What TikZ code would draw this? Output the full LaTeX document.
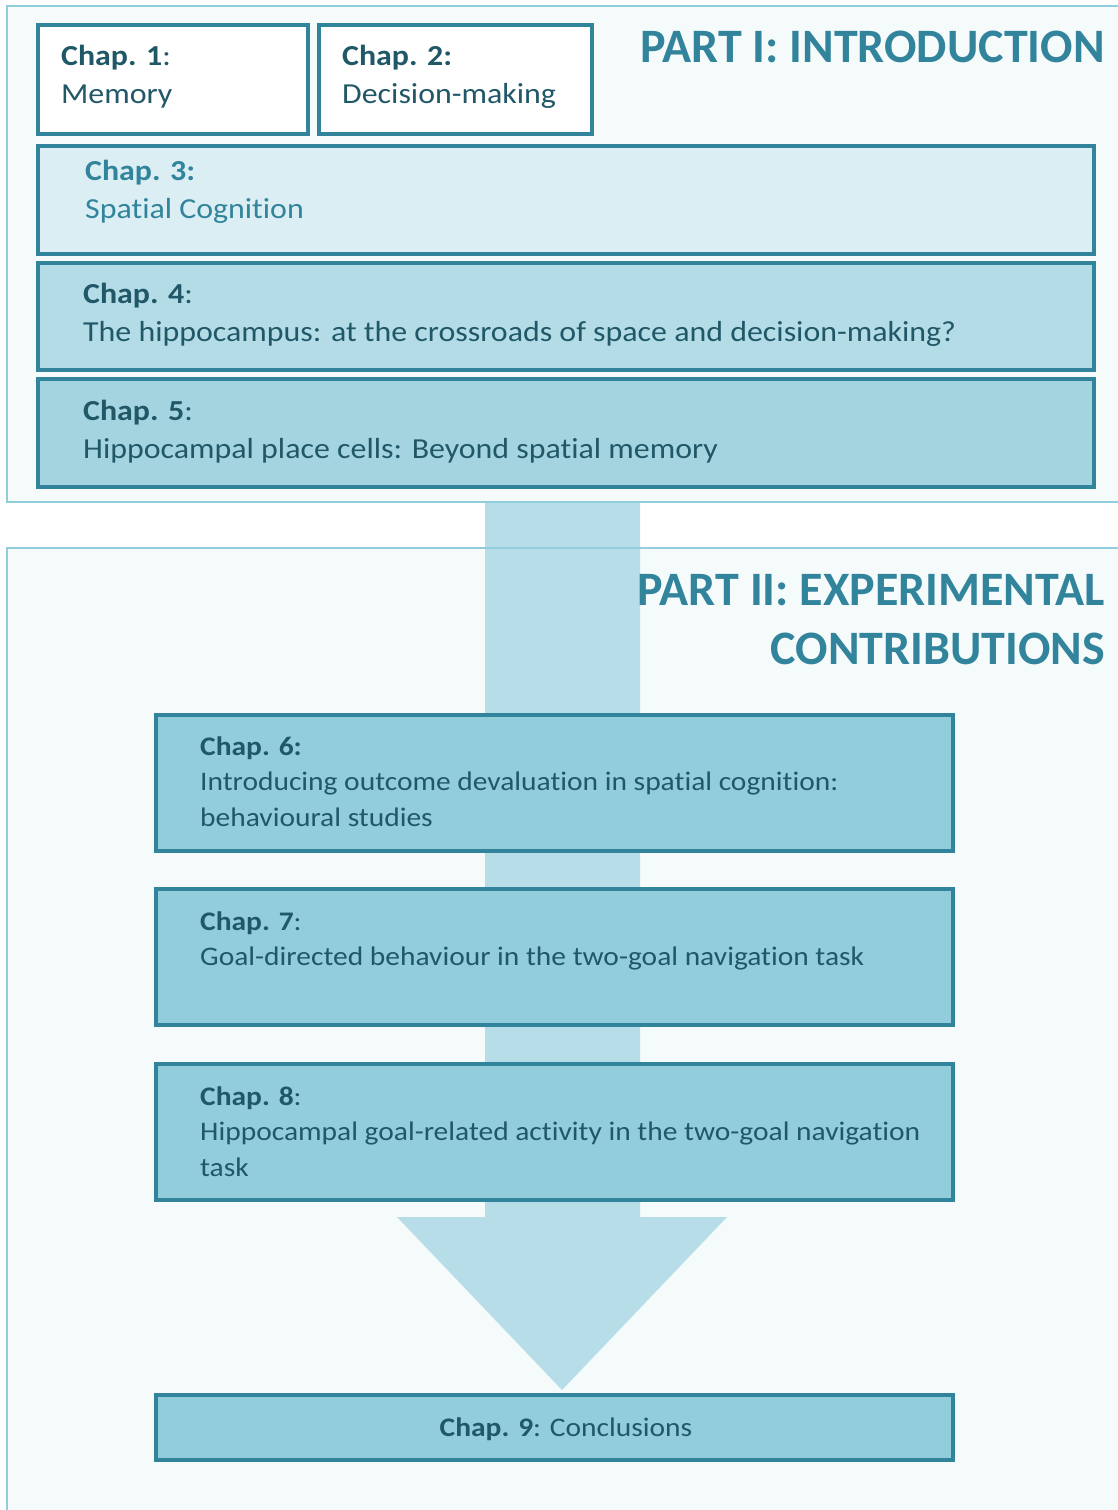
\documentclass[tikz,border=0pt]{standalone}
\usepackage{fontspec}
\setmainfont[Ligatures=NoCommon]{Carlito}
\newfontfamily\bodyfont[FakeStretch=1.1,Ligatures=NoCommon]{Carlito}
\definecolor{panelfill}{HTML}{F5FAFB}
\definecolor{panelline}{HTML}{92CDDC}
\definecolor{boxline}{HTML}{31849B}
\definecolor{arrowfill}{HTML}{B7DEE8}
\definecolor{cthree}{HTML}{DAEEF3}
\definecolor{cfour}{HTML}{B3DCE7}
\definecolor{cfive}{HTML}{A5D4E1}
\definecolor{clate}{HTML}{92CDDC}
\definecolor{textdark}{HTML}{215868}
\definecolor{titlecol}{HTML}{31849B}
\tikzset{
  panel/.style={fill=panelfill, draw=none},
  panelborder/.style={draw=panelline, line width=1.8pt},
  chapbox/.style={draw=boxline, line width=3.5pt, inner sep=0pt, rectangle},
  txt/.style={anchor=base west, inner sep=0pt, text=textdark, font=\bodyfont\fontsize{29}{34}\selectfont},
  txts/.style={anchor=base west, inner sep=0pt, text=textdark, font=\bodyfont\fontsize{26.8}{32}\selectfont},
  ttl/.style={anchor=base east, inner sep=0pt, text=titlecol, font=\fontsize{48}{54}\selectfont\bfseries},
}
\begin{document}
\begin{tikzpicture}[x=1pt,y=-1pt]
\useasboundingbox (0,0) rectangle (1117,1510);
\fill[white] (0,0) rectangle (1117,1510);
% panels
\fill[panelfill] (7,6) rectangle (1130,502);
\fill[panelfill] (7,548) rectangle (1130,1520);
% arrow
\fill[arrowfill] (485,502) -- (640,502) -- (640,1217) -- (727,1217) -- (562,1390) -- (397,1217) -- (485,1217) -- cycle;
\draw[panelborder] (1130,6) -- (7,6) -- (7,502) -- (1130,502);
\draw[panelborder] (1130,548) -- (7,548) -- (7,1520);
% titles
\node[ttl] (t1) at (1105,62) {PART I: INTRODUCTION};
\node[ttl] (t2a) at (1105,605) {PART II: EXPERIMENTAL};
\node[ttl] (t2b) at (1105,664) {CONTRIBUTIONS};
% Part I boxes
\node[chapbox, fill=white, minimum width=270, minimum height=109] (c1) at (173,79.5) {};
\node[txt] (c1a) at (61,65) {\textbf{Chap. 1}:};
\node[txt] (c1b) at (61,103) {Memory};
\node[chapbox, fill=white, minimum width=273, minimum height=109] (c2) at (455.5,79.5) {};
\node[txt] (c2a) at (342,65) {\textbf{Chap. 2:}};
\node[txt] (c2b) at (342,103) {Decision-making};
\node[chapbox, fill=cthree, minimum width=1056, minimum height=108] (c3) at (566,200) {};
\node[txt, text=titlecol] (c3a) at (85,180) {\textbf{Chap. 3:}};
\node[txt, text=titlecol] (c3b) at (85,218) {Spatial Cognition};
\node[chapbox, fill=cfour, minimum width=1056, minimum height=107] (c4) at (566,316.5) {};
\node[txt] (c4a) at (83,303) {\textbf{Chap. 4}:};
\node[txt] (c4b) at (83,341) {The hippocampus: at the crossroads of space and decision-making?};
\node[chapbox, fill=cfive, minimum width=1056, minimum height=108] (c5) at (566,433) {};
\node[txt] (c5a) at (83,420) {\textbf{Chap. 5}:};
\node[txt] (c5b) at (83,458) {Hippocampal place cells: Beyond spatial memory};
% Part II boxes
\node[chapbox, fill=clate, minimum width=797, minimum height=136] (c6) at (554.5,783) {};
\node[txts] (c6a) at (200,755) {\textbf{Chap. 6:}};
\node[txts] (c6b) at (200,790) {Introducing outcome devaluation in spatial cognition:};
\node[txts] (c6c) at (200,826) {behavioural studies};
\node[chapbox, fill=clate, minimum width=797, minimum height=136] (c7) at (554.5,957) {};
\node[txts] (c7a) at (200,930) {\textbf{Chap. 7}:};
\node[txts] (c7b) at (200,965) {Goal-directed behaviour in the two-goal navigation task};
\node[chapbox, fill=clate, minimum width=797, minimum height=136] (c8) at (554.5,1132) {};
\node[txts] (c8a) at (200,1105) {\textbf{Chap. 8}:};
\node[txts] (c8b) at (200,1140) {Hippocampal goal-related activity in the two-goal navigation};
\node[txts] (c8c) at (200,1176) {task};
\node[chapbox, fill=clate, minimum width=797, minimum height=65] (c9) at (554.5,1427.5) {};
\node[txts, anchor=base] (c9a) at (566,1436) {\textbf{Chap. 9}: Conclusions};
\end{tikzpicture}
\end{document}
